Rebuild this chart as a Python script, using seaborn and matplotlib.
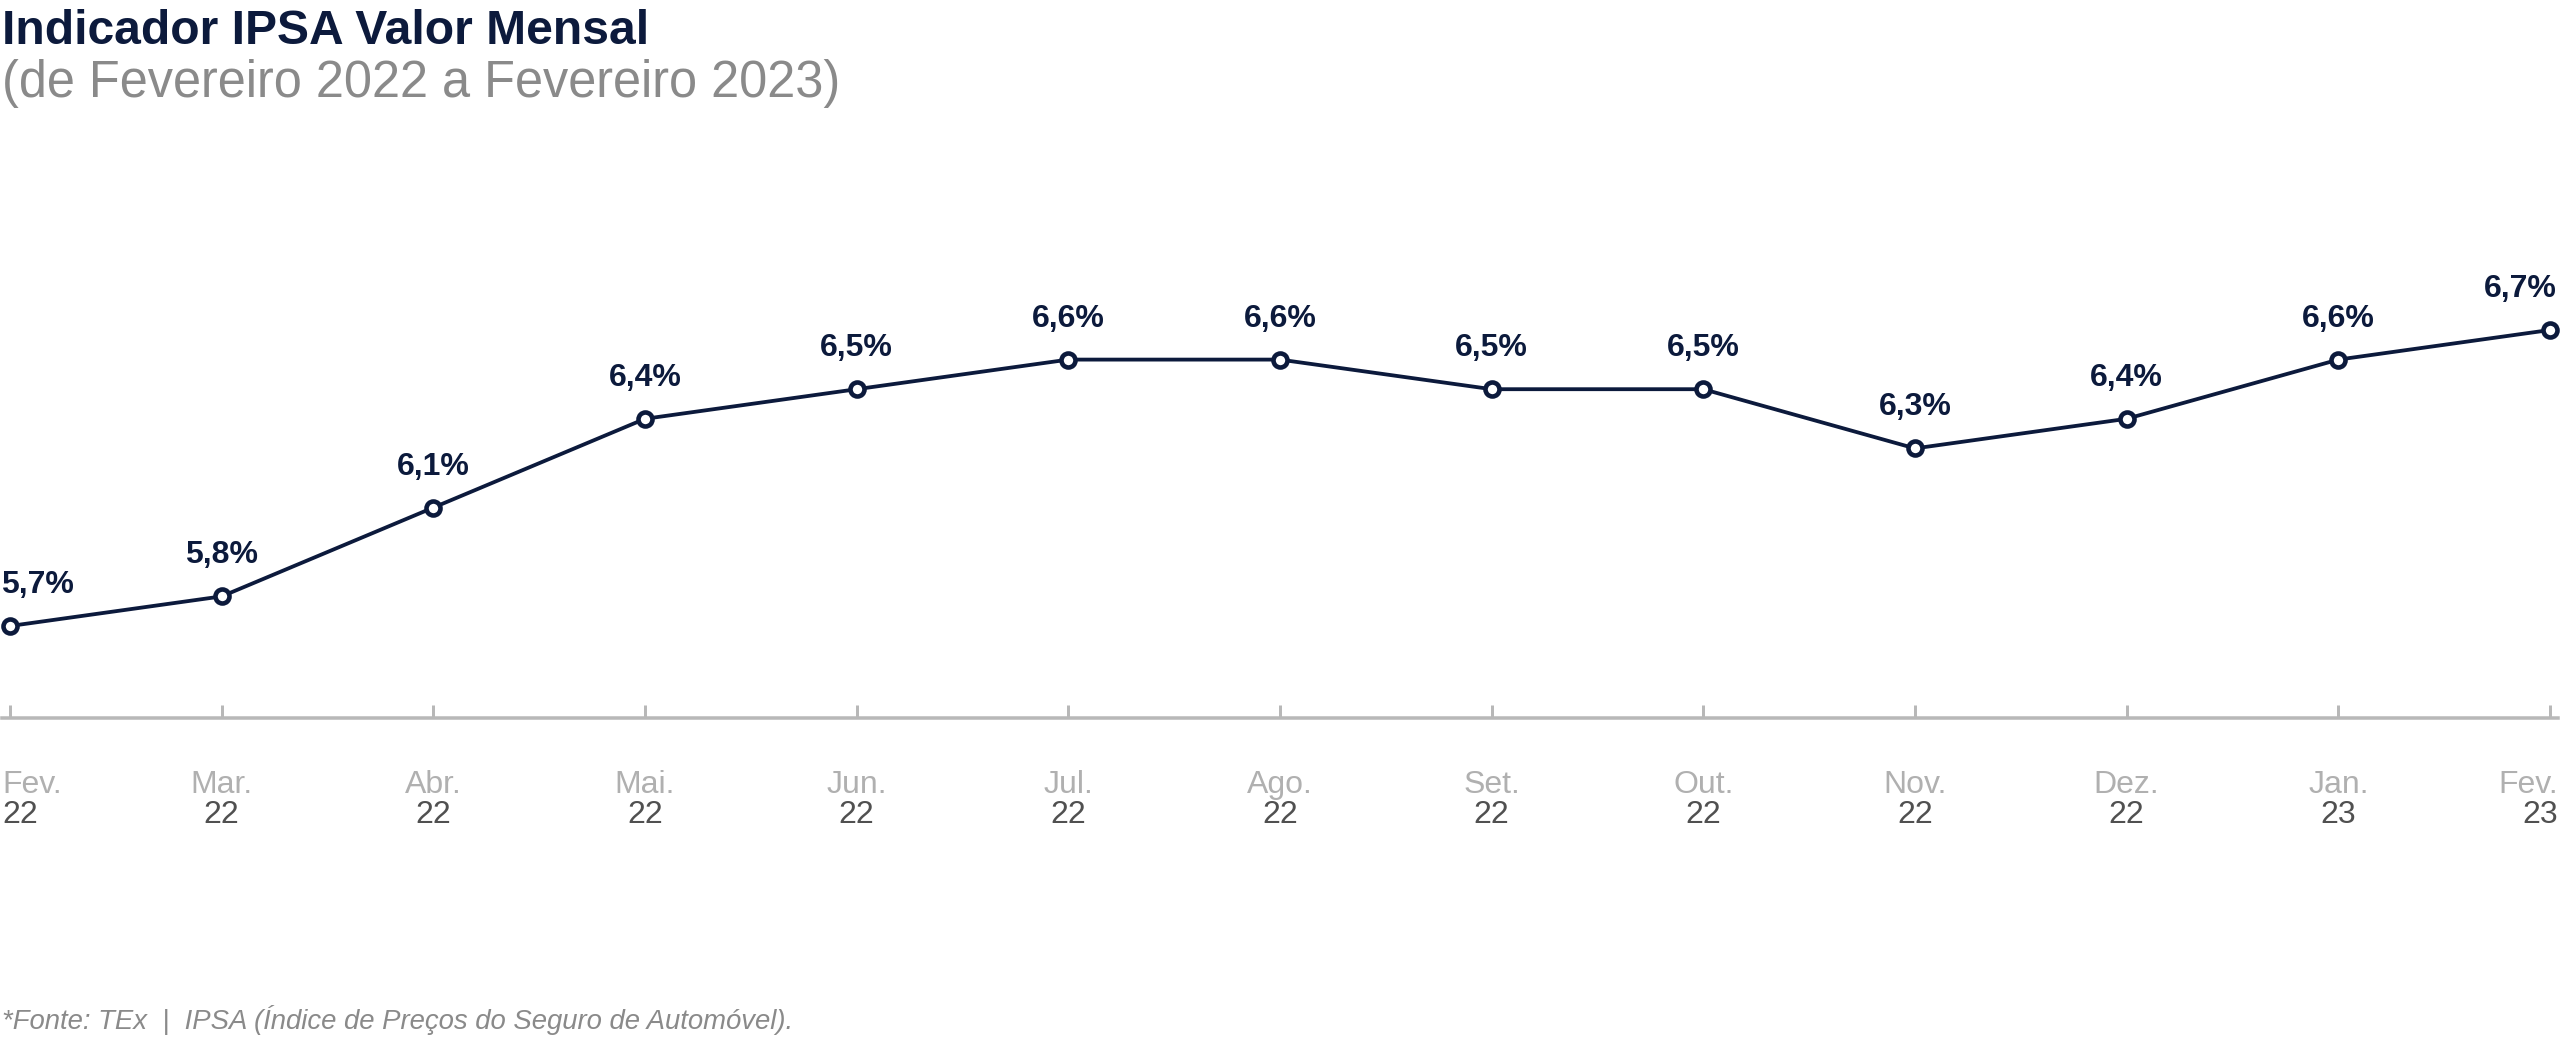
import matplotlib
matplotlib.use("Agg")
import matplotlib.pyplot as plt
import seaborn as sns
import pandas as pd

months = ["Fev.", "Mar.", "Abr.", "Mai.", "Jun.", "Jul.", "Ago.", "Set.", "Out.", "Nov.", "Dez.", "Jan.", "Fev."]
years = ["22", "22", "22", "22", "22", "22", "22", "22", "22", "22", "22", "23", "23"]
values = [5.7, 5.8, 6.1, 6.4, 6.5, 6.6, 6.6, 6.5, 6.5, 6.3, 6.4, 6.6, 6.7]

title = "Indicador IPSA Valor Mensal"
subtitle = "(de Fevereiro 2022 a Fevereiro 2023)"
footer = "*Fonte: TEx  |  IPSA (Índice de Preços do Seguro de Automóvel)."

NAVY = "#0c1a3c"
AXIS = "#b8b8b8"
MONTH_C = "#b0b0b0"
YEAR_C = "#505050"
SUB_C = "#8a8a8a"

sns.set_theme(style="white")
plt.rcParams["font.family"] = ["Liberation Sans", "DejaVu Sans"]

W, H, DPI = 2560, 1039, 100
PT = 72.0 / DPI

df = pd.DataFrame({"i": range(len(values)), "v": values})

fig = plt.figure(figsize=(W / DPI, H / DPI), dpi=DPI)
ax_left_px, ax_right_px = 2, 2558
axis_y_px, ax_top_px = 718, 100
ax = fig.add_axes([ax_left_px / W, (H - axis_y_px) / H,
                   (ax_right_px - ax_left_px) / W, (axis_y_px - ax_top_px) / H])

sns.lineplot(data=df, x="i", y="v", ax=ax, color=NAVY, linewidth=3.8 * PT,
             marker="o", markersize=14 * PT, markerfacecolor="white",
             markeredgecolor=NAVY, markeredgewidth=4.6 * PT, clip_on=False)

px_per_unit = 2540 / 12
ax.set_xlim(-(10 - ax_left_px) / px_per_unit, 12 + (ax_right_px - 2550) / px_per_unit)
ypx = 296.0
ax.set_ylim(5.7 - (axis_y_px - 626) / ypx, 5.7 + (626 - ax_top_px) / ypx)

for s in ["top", "right", "left"]:
    ax.spines[s].set_visible(False)
ax.spines["bottom"].set_color(AXIS)
ax.spines["bottom"].set_linewidth(3.5 * PT)
ax.set_xticks(list(df["i"]))
ax.set_xticklabels([])
ax.set_yticks([])
ax.tick_params(axis="x", direction="in", length=13 * PT, width=3 * PT, color=AXIS, bottom=True)
ax.set_xlabel("")
ax.set_ylabel("")

n = len(values)
for i, (v, m, y) in enumerate(zip(values, months, years)):
    lab = f"{v:.1f}%".replace(".", ",")
    if i == 0:
        ha, dx = "left", -9
    elif i == n - 1:
        ha, dx = "right", 7
    else:
        ha, dx = "center", 0
    ax.annotate(lab, (i, v), xytext=(dx * PT, 33 * PT), textcoords="offset points",
                ha=ha, va="baseline", fontsize=32 * PT, fontweight="bold", color=NAVY,
                annotation_clip=False)
    tdx = -8 if i == 0 else (8 if i == n - 1 else 0)
    ax.annotate(m, (i, 0), xycoords=("data", "axes fraction"), xytext=(tdx * PT, -75 * PT),
                textcoords="offset points", ha=ha, va="baseline", fontsize=32 * PT,
                color=MONTH_C, annotation_clip=False)
    ax.annotate(y, (i, 0), xycoords=("data", "axes fraction"), xytext=(tdx * PT, -105 * PT),
                textcoords="offset points", ha=ha, va="baseline", fontsize=32 * PT,
                color=YEAR_C, annotation_clip=False)

fig.text(2 / W, 1 - 44 / H, title, ha="left", va="baseline", fontsize=48 * PT,
         fontweight="bold", color=NAVY)
fig.text(2 / W, 1 - 97 / H, subtitle, ha="left", va="baseline", fontsize=50.5 * PT,
         color=SUB_C)
fig.text(2 / W, 1 - 1029 / H, footer, ha="left", va="baseline", fontsize=27.5 * PT,
         style="italic", color=SUB_C)

fig.savefig("out.png", dpi=DPI, facecolor="white")
